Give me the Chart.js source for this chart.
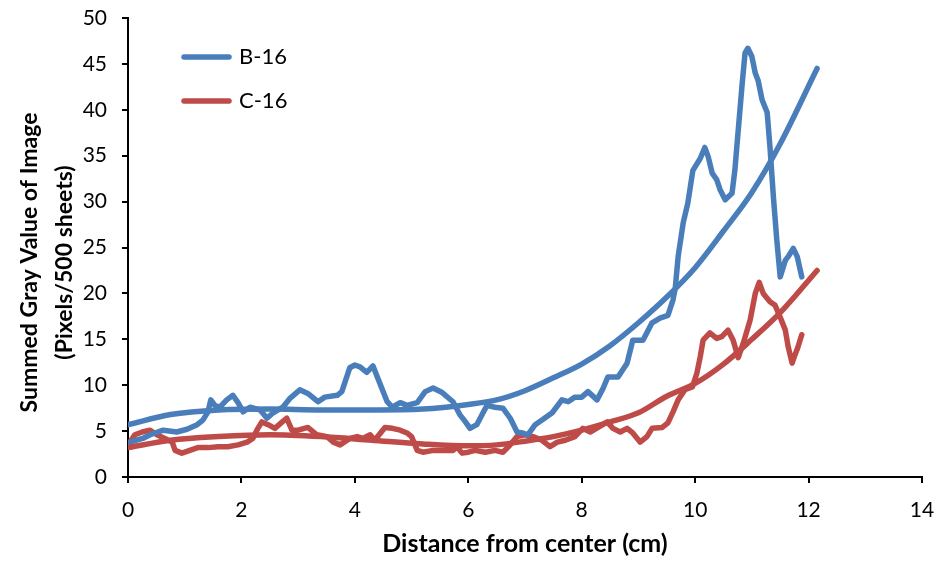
<!DOCTYPE html>
<html>
<head>
<meta charset="utf-8">
<script src="https://cdn.jsdelivr.net/npm/chart.js@4.4.0/dist/chart.umd.min.js"></script>
<style>
html, body { margin: 0; padding: 0; background: #fff; }
</style>
</head>
<body>
<canvas id="lineChart" width="941" height="561"></canvas>
<script>
var seriesNames = ['B-16', 'C-16'];
var xTitle = 'Distance from center (cm)';
var yTitle = ['Summed Gray Value of Image', '(Pixels/500 sheets)'];

// B-16 measured
var bX = [0.0, 0.14, 0.26, 0.39, 0.62, 0.86, 1.04, 1.22, 1.32, 1.41, 1.46, 1.53, 1.62, 1.74, 1.85, 1.94, 2.03, 2.15, 2.33, 2.45,
          2.56, 2.73, 2.86, 3.03, 3.17, 3.35, 3.47, 3.69, 3.77, 3.91, 4.0, 4.09, 4.21, 4.32, 4.44, 4.57, 4.66, 4.8, 4.92, 5.1,
          5.24, 5.38, 5.54, 5.73, 5.85, 5.95, 6.03, 6.15, 6.26, 6.33, 6.47, 6.61, 6.74, 6.86, 6.95, 7.05, 7.18, 7.3, 7.48, 7.65,
          7.76, 7.88, 8.0, 8.11, 8.27, 8.38, 8.46, 8.64, 8.8, 8.9, 9.08, 9.24, 9.38, 9.52, 9.61, 9.65, 9.7, 9.79, 9.87, 9.96,
          10.09, 10.17, 10.23, 10.3, 10.38, 10.44, 10.53, 10.65, 10.7, 10.76, 10.83, 10.88, 10.93, 11.0, 11.06, 11.11, 11.18, 11.27, 11.32, 11.38,
          11.44, 11.5, 11.59, 11.64, 11.73, 11.8, 11.88];
var bY = [3.7, 4.0, 4.2, 4.6, 5.1, 4.9, 5.2, 5.7, 6.2, 7.1, 8.4, 7.8, 7.6, 8.4, 8.9, 8.1, 7.1, 7.6, 7.3, 6.4,
          7.0, 7.6, 8.6, 9.5, 9.1, 8.2, 8.7, 8.9, 9.3, 11.9, 12.2, 12.0, 11.4, 12.1, 10.2, 8.2, 7.6, 8.1, 7.8, 8.1,
          9.3, 9.7, 9.2, 8.2, 6.8, 6.0, 5.3, 5.7, 7.0, 7.8, 7.6, 7.5, 6.4, 4.9, 4.8, 4.6, 5.7, 6.2, 7.0, 8.4,
          8.2, 8.7, 8.7, 9.3, 8.4, 9.7, 10.9, 10.9, 12.4, 14.9, 14.9, 16.8, 17.3, 17.6, 19.3, 20.6, 24.0, 27.7, 29.8, 33.4,
          34.7, 35.9, 34.9, 33.1, 32.4, 31.3, 30.2, 30.9, 33.4, 37.8, 42.9, 46.2, 46.7, 45.8, 44.0, 43.2, 41.1, 39.7, 35.9, 30.5,
          25.8, 21.8, 23.6, 24.0, 24.9, 24.0, 21.8];

// C-16 measured
var cX = [0.0, 0.12, 0.25, 0.39, 0.51, 0.65, 0.78, 0.83, 0.95, 1.09, 1.23, 1.41, 1.59, 1.76, 1.94, 2.1, 2.2, 2.29, 2.36, 2.47,
          2.59, 2.72, 2.8, 2.89, 3.0, 3.17, 3.33, 3.51, 3.62, 3.74, 3.91, 4.04, 4.14, 4.27, 4.35, 4.53, 4.66, 4.8, 4.92, 5.0,
          5.1, 5.2, 5.38, 5.55, 5.73, 5.8, 5.89, 6.0, 6.12, 6.3, 6.47, 6.61, 6.74, 6.86, 7.0, 7.14, 7.3, 7.44, 7.57, 7.71,
          7.88, 8.02, 8.15, 8.29, 8.45, 8.55, 8.68, 8.8, 8.9, 9.03, 9.15, 9.24, 9.42, 9.52, 9.61, 9.7, 9.82, 9.95, 10.03, 10.09,
          10.14, 10.26, 10.38, 10.47, 10.58, 10.67, 10.76, 10.85, 10.97, 11.06, 11.13, 11.2, 11.32, 11.41, 11.5, 11.59, 11.64, 11.71, 11.76, 11.81,
          11.88];
var cY = [3.5, 4.6, 4.9, 5.1, 4.6, 4.2, 3.8, 2.9, 2.6, 2.9, 3.2, 3.2, 3.3, 3.3, 3.5, 3.8, 4.2, 5.3, 6.0, 5.7,
          5.3, 6.0, 6.4, 5.1, 5.1, 5.4, 4.6, 4.4, 3.8, 3.5, 4.2, 4.4, 4.2, 4.6, 4.0, 5.4, 5.3, 5.1, 4.8, 4.4,
          2.9, 2.7, 2.9, 2.9, 2.9, 3.3, 2.6, 2.7, 2.9, 2.7, 2.9, 2.7, 3.5, 4.4, 4.6, 4.4, 4.0, 3.3, 3.8, 4.0,
          4.4, 5.3, 4.9, 5.4, 6.0, 5.3, 4.9, 5.3, 4.8, 3.8, 4.4, 5.3, 5.4, 5.9, 7.1, 8.4, 9.5, 9.8, 11.3, 13.1,
          14.9, 15.7, 15.1, 15.3, 16.0, 14.9, 13.0, 14.6, 17.1, 20.0, 21.2, 20.0, 19.1, 18.7, 17.4, 16.0, 14.2, 12.4, 13.3, 14.1,
          15.5];

// trend lines
var tX  = [0, 0.75, 1.6, 2.5, 3.4, 4.3, 5.2, 6.0, 6.5, 7.0, 7.5, 8.0, 8.5, 9.0, 9.5, 10.0, 10.5, 11.0, 11.5, 12.15];
var tbY = [5.7, 6.8, 7.3, 7.4, 7.3, 7.3, 7.4, 7.9, 8.4, 9.4, 10.8, 12.3, 14.3, 16.8, 19.6, 22.8, 26.8, 31.0, 36.3, 44.5];
var tcY = [3.2, 4.0, 4.4, 4.6, 4.4, 4.0, 3.6, 3.4, 3.5, 3.9, 4.4, 5.1, 6.0, 7.0, 8.8, 10.2, 12.3, 15.0, 17.9, 22.5];

var blue = '#4A7EBB';
var red = '#BE4B48';
var fontName = 'Lato';

function pts(xs, ys) {
    return xs.map(function (x, i) { return { x: x, y: ys[i] }; });
}

// legend inside the plot + two-line y title, as in the original
var extras = {
    id: 'extras',
    afterDraw: function (chart) {
        var ctx = chart.ctx;
        var a = chart.chartArea;
        ctx.save();
        for (let i = 0; i < 2; i++) {
            var ds = chart.data.datasets[i];
            var y = a.top + 39 + i * 44;
            ctx.strokeStyle = ds.borderColor;
            ctx.lineWidth = 5.5;
            ctx.lineCap = 'round';
            ctx.beginPath();
            ctx.moveTo(a.left + 56, y);
            ctx.lineTo(a.left + 101, y);
            ctx.stroke();
            ctx.fillStyle = '#000';
            ctx.font = '22px ' + fontName;
            ctx.textBaseline = 'middle';
            ctx.textAlign = 'left';
            ctx.fillText(ds.label, a.left + 111, y);
        }
        ctx.translate(0, (a.top + a.bottom) / 2 + 15);
        ctx.rotate(-Math.PI / 2);
        ctx.font = 'bold 23px ' + fontName;
        ctx.textAlign = 'center';
        ctx.textBaseline = 'middle';
        ctx.fillText(yTitle[0], 0, 30);
        ctx.fillText(yTitle[1], 0, 65);
        ctx.restore();
    }
};

var lineStyle = {
    fill: false,
    pointRadius: 0,
    borderWidth: 5.5,
    borderJoinStyle: 'round',
    borderCapStyle: 'round',
    tension: 0
};

function noPad(scale) {
    scale.paddingTop = 0;
    scale.paddingBottom = 0;
    scale.paddingLeft = 0;
    scale.paddingRight = 0;
}

new Chart(document.getElementById('lineChart').getContext('2d'), {
    type: 'line',
    data: {
        datasets: [
            Object.assign({ label: seriesNames[0], data: pts(bX, bY), borderColor: blue, order: 2 }, lineStyle),
            Object.assign({ label: seriesNames[1], data: pts(cX, cY), borderColor: red, order: 3 }, lineStyle),
            Object.assign({}, lineStyle, { label: 'trend B', data: pts(tX, tbY), borderColor: blue, cubicInterpolationMode: 'monotone', order: 0 }),
            Object.assign({}, lineStyle, { label: 'trend C', data: pts(tX, tcY), borderColor: red, cubicInterpolationMode: 'monotone', order: 1 })
        ]
    },
    options: {
        responsive: false,
        animation: false,
        layout: { padding: { top: 18, right: 19, left: 0, bottom: 0 } },
        plugins: { legend: { display: false }, tooltip: { enabled: false } },
        scales: {
            x: {
                type: 'linear',
                min: 0, max: 14,
                afterFit: function (scale) { scale.height = 84; noPad(scale); },
                ticks: { stepSize: 2, color: '#000', padding: 15, font: { family: fontName, size: 21 } },
                grid: { drawOnChartArea: false, color: '#000', lineWidth: 2, tickLength: 6 },
                border: { color: '#000', width: 2 },
                title: { display: true, text: xTitle, color: '#000', padding: { top: 0, bottom: 2 }, font: { family: fontName, size: 25, weight: 'bold' } }
            },
            y: {
                min: 0, max: 50,
                afterFit: function (scale) { scale.width = 128; noPad(scale); },
                ticks: { stepSize: 5, color: '#000', padding: 15, font: { family: fontName, size: 21 } },
                grid: { drawOnChartArea: false, color: '#000', lineWidth: 2, tickLength: 6 },
                border: { color: '#000', width: 2 }
            }
        }
    },
    plugins: [extras]
});
</script>
</body>
</html>
